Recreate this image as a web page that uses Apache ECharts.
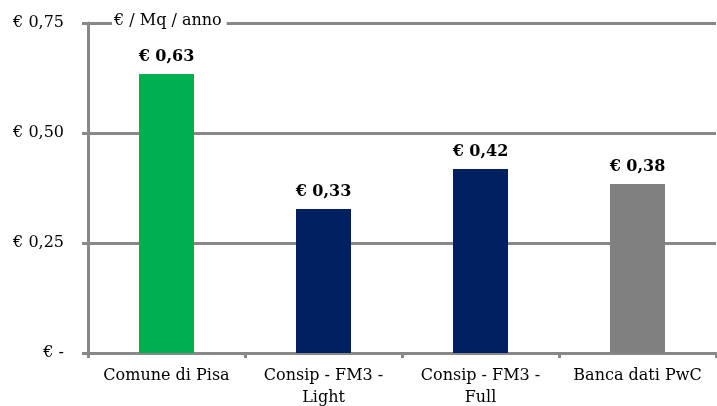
<!DOCTYPE html>
<html>
<head>
<meta charset="utf-8">
<script src="https://cdn.jsdelivr.net/npm/echarts@6/dist/echarts.min.js"></script>
<style>
html,body{margin:0;padding:0;background:#fff;}
#chart{width:717px;height:406px;}
</style>
</head>
<body>
<div id="chart"></div>
<script>
var categories = ['Comune di Pisa', 'Consip - FM3 -\nLight', 'Consip - FM3 -\nFull', 'Banca dati PwC'];
var values = [0.634, 0.327, 0.418, 0.384];
var barColors = ['#00AF50', '#002060', '#002060', '#808080'];
var yTicks = [0, 0.25, 0.5, 0.75];
var unitLabel = '€ / Mq / anno';

var FONT = '"DejaVu Serif", "Liberation Serif", serif';
var fmt = function (v) { return v === 0 ? '€ -' : '€ ' + v.toFixed(2).replace('.', ','); };

var chart = echarts.init(document.getElementById('chart'));
chart.setOption({
  animation: false,
  grid: { left: 88, right: 1, top: 23, bottom: 53, outerBoundsMode: 'none', containLabel: false },
  title: {
    text: unitLabel,
    left: 112, top: 13,
    backgroundColor: '#fff',
    padding: [0, 5, 0, 2],
    textStyle: { fontFamily: FONT, fontSize: 16, fontWeight: 'normal', color: '#000' }
  },
  xAxis: {
    type: 'category',
    data: categories,
    axisLine: { lineStyle: { color: '#888', width: 3 } },
    axisTick: { show: true, length: 5, lineStyle: { color: '#888', width: 3 } },
    axisLabel: { interval: 0, hideOverlap: false, fontFamily: FONT, fontSize: 16, color: '#000', margin: 12, lineHeight: 22 }
  },
  yAxis: {
    type: 'value',
    min: 0, max: 0.75, interval: 0.25,
    axisLine: { show: true, lineStyle: { color: '#888', width: 3 } },
    axisTick: { show: true, length: 6, lineStyle: { color: '#888', width: 3 } },
    splitLine: { lineStyle: { color: '#888', width: 3 } },
    axisLabel: { fontFamily: FONT, fontSize: 16, color: '#000', margin: 24, formatter: fmt }
  },
  series: [{
    type: 'bar',
    barWidth: 55,
    data: values.map(function (v, i) { return { value: v, itemStyle: { color: barColors[i] } }; }),
    label: {
      show: true, position: 'top', distance: 9,
      fontFamily: FONT, fontSize: 16, fontWeight: 'bold', color: '#000',
      formatter: function (p) { return fmt(p.value); }
    }
  }]
});
</script>
</body>
</html>
